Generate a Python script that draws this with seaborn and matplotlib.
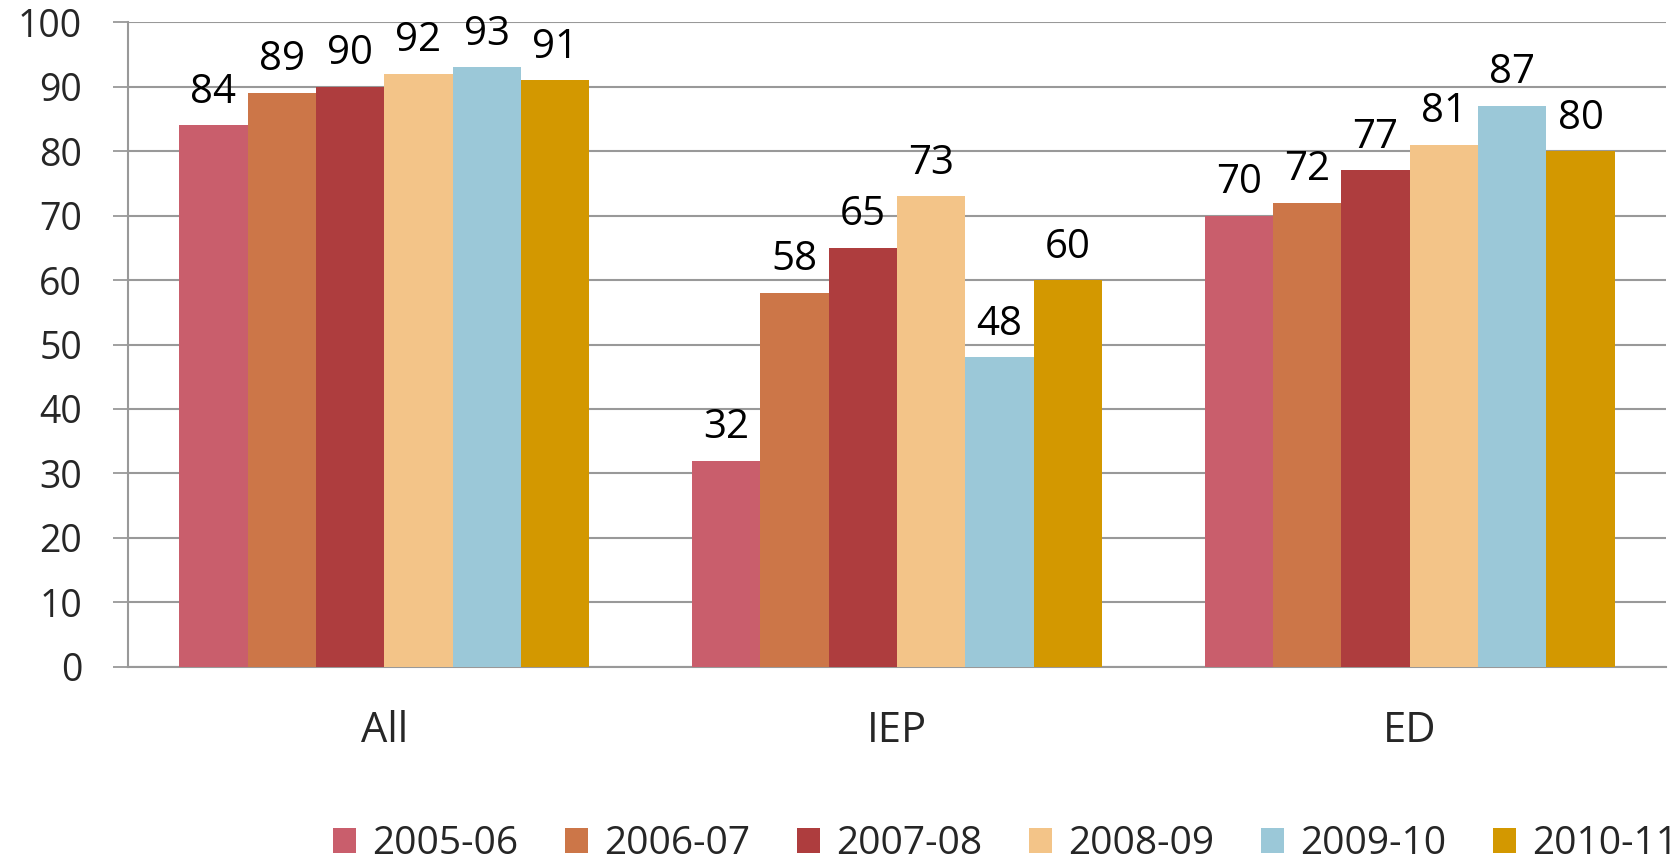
import numpy as np
import pandas as pd
import matplotlib
matplotlib.use("Agg")
import matplotlib.pyplot as plt
import seaborn as sns

# datos
groups = ["All", "IEP", "ED"]
years = ["2005-06", "2006-07", "2007-08", "2008-09", "2009-10", "2010-11"]
vals_all = [84, 89, 90, 92, 93, 91]
vals_iep = [32, 58, 65, 73, 48, 60]
vals_ed = [70, 72, 77, 81, 87, 80]
colors = ["#C95E6C", "#CC7648", "#AE3D3E", "#F3C488", "#9BC8D8", "#D39800"]
yticks = np.arange(0, 101, 10)

rows = []
for g, vals in zip(groups, [vals_all, vals_iep, vals_ed]):
    for yr, v in zip(years, vals):
        rows.append({"group": g, "year": yr, "value": v})
df = pd.DataFrame(rows)

sns.set_style("white")
plt.rcParams["font.family"] = ["Open Sans", "DejaVu Sans"]

fig = plt.figure(figsize=(16.77, 8.67), dpi=100)
ax = fig.add_axes([0.0763, 0.2307, 0.9171, 0.7439])

sns.barplot(data=df, x="group", y="value", hue="year", order=groups,
            hue_order=years, palette=colors, width=0.8, saturation=1,
            linewidth=0, ax=ax, zorder=3)

# etiquetas de valores
for cont in ax.containers:
    ax.bar_label(cont, fontsize=29, padding=9, color="black")

ax.set_ylim(0, 100)
ax.set_xlim(-0.5, 2.5)
ax.set_yticks(yticks)
ax.set_yticklabels([str(t) for t in yticks], fontsize=27)
ax.yaxis.grid(True, color="#999999", linewidth=1.5, zorder=0)
ax.set_axisbelow(True)

# ticks del eje x en los bordes de categorias
ax.set_xticks([0, 1, 2])
ax.set_xticklabels(groups, fontsize=30)
ax.set_xticks([-0.5, 0.5, 1.5, 2.5], minor=True)
ax.tick_params(axis="x", which="major", length=0, pad=31)
ax.tick_params(axis="x", which="minor", length=11, width=1.3, color="#999999", direction="out")
ax.tick_params(axis="y", length=11, width=1.3, color="#999999", direction="out", pad=22, left=True)

for s in ["top", "right"]:
    ax.spines[s].set_visible(False)
for s in ["left", "bottom"]:
    ax.spines[s].set_color("#999999")
    ax.spines[s].set_linewidth(1.5)

ax.set_xlabel("")
ax.set_ylabel("")

handles, labels = ax.get_legend_handles_labels()
ax.legend_.remove()
fig.legend(handles, labels, loc="center right", bbox_to_anchor=(1.003, 0.026),
           ncol=6, frameon=False, fontsize=28, handlelength=0.6, handleheight=0.6,
           handletextpad=0.41, columnspacing=1.2, borderpad=0.1, borderaxespad=0.0)

plt.savefig("out.png", dpi=100)
